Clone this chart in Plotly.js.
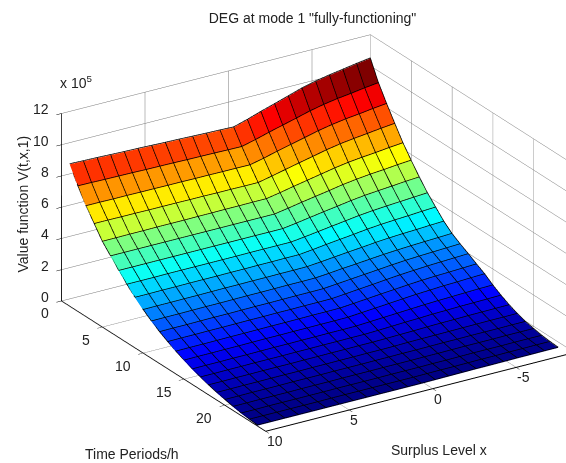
<!DOCTYPE html>
<html><head><meta charset="utf-8">
<script src="https://cdn.plot.ly/plotly-3.0.1.min.js"></script>
<style>html,body{margin:0;padding:0;background:#fff}#c{width:566px;height:463px}</style>
</head><body><div id="c"></div>
<script>
const timePeriods=[1,2,3,4,5,6,7,8,9,10,11,12,13,14,15,16,17,18,19,20,21,22,23,24];
const surplus=[10,9.18,8.36,7.55,6.73,5.91,5.09,4.27,3.45,2.64,1.82,1,0.18,-0.64,-1.45,-2.27,-3.09,-3.91,-4.73,-5.55,-6.36,-7.18,-8];
const valueRows=[
[9.08,9.05,9.03,9.0,8.97,8.95,8.92,8.89,8.87,8.84,8.81,8.79,8.76,9.02,9.31,9.58,9.86,10.14,10.36,10.53,10.67,10.82,10.95],
[8.0,7.99,7.97,7.96,7.95,7.93,7.92,7.91,7.89,7.88,7.87,7.85,7.84,8.06,8.31,8.54,8.77,9.01,9.2,9.35,9.46,9.59,9.7],
[7.06,7.06,7.05,7.05,7.04,7.04,7.03,7.03,7.02,7.02,7.01,7.01,7.0,7.2,7.43,7.64,7.85,8.07,8.24,8.38,8.48,8.6,8.7],
[6.25,6.25,6.24,6.24,6.23,6.23,6.23,6.22,6.22,6.21,6.21,6.2,6.2,6.39,6.59,6.79,6.98,7.18,7.34,7.46,7.56,7.67,7.76],
[5.45,5.45,5.46,5.46,5.47,5.47,5.47,5.48,5.48,5.49,5.49,5.5,5.5,5.66,5.84,6.01,6.18,6.35,6.49,6.59,6.67,6.77,6.85],
[4.85,4.85,4.85,4.85,4.85,4.85,4.85,4.85,4.85,4.85,4.85,4.85,4.85,5.0,5.16,5.31,5.46,5.62,5.74,5.84,5.91,6.0,6.07],
[4.25,4.25,4.25,4.25,4.25,4.25,4.25,4.25,4.25,4.25,4.25,4.25,4.25,4.38,4.52,4.66,4.79,4.93,5.04,5.12,5.19,5.27,5.33],
[3.7,3.7,3.7,3.71,3.71,3.71,3.71,3.71,3.71,3.72,3.72,3.72,3.72,3.83,3.95,4.07,4.19,4.31,4.4,4.47,4.53,4.59,4.65],
[3.2,3.2,3.21,3.21,3.22,3.22,3.22,3.23,3.23,3.24,3.24,3.25,3.25,3.35,3.46,3.56,3.66,3.77,3.85,3.91,3.96,4.02,4.07],
[2.75,2.76,2.76,2.77,2.77,2.78,2.79,2.79,2.8,2.8,2.81,2.81,2.82,2.9,2.99,3.08,3.16,3.25,3.32,3.37,3.41,3.46,3.5],
[2.35,2.36,2.36,2.37,2.38,2.38,2.39,2.4,2.4,2.41,2.42,2.42,2.43,2.5,2.59,2.66,2.74,2.82,2.88,2.93,2.97,3.01,3.05],
[2.0,2.01,2.01,2.02,2.03,2.03,2.04,2.05,2.05,2.06,2.07,2.07,2.08,2.16,2.24,2.32,2.4,2.48,2.55,2.6,2.64,2.68,2.72],
[1.7,1.71,1.71,1.72,1.72,1.73,1.74,1.74,1.75,1.75,1.76,1.76,1.77,1.85,1.93,2.01,2.1,2.18,2.24,2.3,2.34,2.38,2.42],
[1.42,1.43,1.43,1.44,1.45,1.45,1.46,1.47,1.47,1.48,1.49,1.49,1.5,1.57,1.65,1.73,1.8,1.88,1.94,1.99,2.02,2.06,2.1],
[1.18,1.19,1.19,1.2,1.2,1.21,1.22,1.22,1.23,1.23,1.24,1.24,1.25,1.32,1.39,1.46,1.53,1.6,1.65,1.7,1.73,1.77,1.8],
[0.95,0.96,0.96,0.97,0.97,0.98,0.99,0.99,1.0,1.0,1.01,1.01,1.02,1.07,1.12,1.17,1.22,1.27,1.31,1.34,1.37,1.4,1.42],
[0.77,0.77,0.78,0.78,0.79,0.79,0.79,0.8,0.8,0.81,0.81,0.82,0.82,0.85,0.89,0.93,0.96,1.0,1.02,1.05,1.06,1.08,1.1],
[0.6,0.6,0.61,0.61,0.62,0.62,0.62,0.63,0.63,0.64,0.64,0.65,0.65,0.67,0.69,0.71,0.74,0.76,0.77,0.79,0.8,0.81,0.82],
[0.45,0.45,0.46,0.46,0.47,0.47,0.47,0.48,0.48,0.49,0.49,0.5,0.5,0.51,0.53,0.54,0.55,0.56,0.57,0.58,0.59,0.59,0.6],
[0.33,0.33,0.34,0.34,0.34,0.35,0.35,0.35,0.36,0.36,0.36,0.37,0.37,0.38,0.38,0.39,0.4,0.4,0.41,0.41,0.41,0.42,0.42],
[0.22,0.22,0.23,0.23,0.23,0.24,0.24,0.24,0.25,0.25,0.25,0.26,0.26,0.26,0.27,0.27,0.28,0.29,0.29,0.29,0.3,0.3,0.3],
[0.13,0.13,0.14,0.14,0.14,0.14,0.14,0.15,0.15,0.15,0.15,0.16,0.16,0.16,0.17,0.17,0.18,0.19,0.19,0.19,0.2,0.2,0.2],
[0.07,0.07,0.07,0.07,0.07,0.07,0.08,0.08,0.08,0.08,0.08,0.08,0.08,0.09,0.1,0.1,0.11,0.12,0.12,0.13,0.13,0.14,0.14],
[0.03,0.03,0.03,0.03,0.03,0.03,0.03,0.03,0.03,0.03,0.03,0.03,0.03,0.04,0.05,0.06,0.07,0.07,0.08,0.09,0.09,0.1,0.1]
];
const timeTicks=[0,5,10,15,20];
const surplusTicks=[-5,0,5,10];
const valueTicks=[0,2,4,6,8,10,12];
const jet=[[0,'rgb(0,0,127)'],[0.125,'rgb(0,0,255)'],[0.375,'rgb(0,255,255)'],[0.625,'rgb(255,255,0)'],[0.875,'rgb(255,0,0)'],[1,'rgb(127,0,0)']];
const meshLift=0.04;
const timeRange=[0,25], surplusRange=[10,-8.5], valueRange=[0,12];

const nt=timePeriods.length, ny=surplus.length;
const vx=[],vy=[],vz=[],I=[],J=[],K=[],cell=[];
valueRows.forEach((row,a)=>row.forEach((v,b)=>{vx.push(timePeriods[a]);vy.push(surplus[b]);vz.push(v);}));
for(let a=0;a<nt-1;a++)for(let b=0;b<ny-1;b++){
  const p=a*ny+b,q=p+1,r=p+ny,s=r+1,c=valueRows[a][b+1];
  I.push(p,p);J.push(q,s);K.push(s,r);cell.push(c,c);
}
const lx=[],ly=[],lz=[];
for(let a=0;a<nt;a++){for(let b=0;b<ny;b++){lx.push(timePeriods[a]);ly.push(surplus[b]);lz.push(valueRows[a][b]+meshLift);}lx.push(null);ly.push(null);lz.push(null);}
for(let b=0;b<ny;b++){for(let a=0;a<nt;a++){lx.push(timePeriods[a]);ly.push(surplus[b]);lz.push(valueRows[a][b]+meshLift);}lx.push(null);ly.push(null);lz.push(null);}

const axisBase={showbackground:false,showgrid:true,gridcolor:'#777',gridwidth:1,zeroline:false,showline:true,linecolor:'#000',linewidth:2,
  ticks:'outside',ticklen:6,tickcolor:'#000',showticklabels:false,showspikes:false,title:{text:''}};
const fontT={family:'Liberation Sans',size:14,color:'#222'};
const tickNote=(x,y,z,text,xanchor,xshift,yshift)=>({x,y,z,text,xanchor,yanchor:'middle',xshift,yshift,showarrow:false,font:fontT});
const sceneNotes=[
 ...valueTicks.map(v=>tickNote(timeRange[0],surplusRange[0],v,String(v),'right',-10,4)),
 ...timeTicks.map(v=>tickNote(v,surplusRange[0],valueRange[0],String(v),'right',-10.5,-12.5)),
 ...surplusTicks.map(v=>tickNote(timeRange[1],v,valueRange[0],String(v),'left',-1,-10))
];
const paperNote=(px,py,text,extra)=>Object.assign({xref:'paper',yref:'paper',x:px/566,y:1-py/463,text,showarrow:false,font:fontT,xanchor:'center',yanchor:'middle'},extra||{});
const data=[
 {type:'mesh3d',x:vx,y:vy,z:vz,i:I,j:J,k:K,intensity:cell,intensitymode:'cell',colorscale:jet,cmin:0,cmax:10.95,showscale:false,flatshading:true,
  lighting:{ambient:1,diffuse:0,specular:0,roughness:1,fresnel:0},hoverinfo:'skip'},
 {type:'scatter3d',mode:'lines',x:lx,y:ly,z:lz,line:{color:'#000',width:1.5},connectgaps:false,hoverinfo:'skip',showlegend:false}
];
const layout={width:566,height:463,margin:{l:0,r:0,t:0,b:0},paper_bgcolor:'#fff',showlegend:false,
 title:{text:'DEG at mode 1 "fully-functioning"',font:fontT,x:312.5/566,xanchor:'center',y:1-18/463,yanchor:'middle'},
 scene:{domain:{x:[0,1],y:[0,1]},aspectmode:'manual',aspectratio:{x:1.651,y:1.579,z:0.885},
  camera:{projection:{type:'orthographic'},eye:{x:1.466,y:-1.106,z:0.814},center:{x:-0.081,y:-0.128,z:0.007},up:{x:0,y:0,z:1}},
  xaxis:Object.assign({},axisBase,{range:timeRange,tickvals:timeTicks}),
  yaxis:Object.assign({},axisBase,{range:surplusRange,tickvals:surplusTicks}),
  zaxis:Object.assign({},axisBase,{range:valueRange,tickvals:valueTicks}),
  annotations:sceneNotes},
 annotations:[
  paperNote(131.5,454,'Time Periods/h'),
  paperNote(438.5,450,'Surplus Level x'),
  paperNote(22,204.5,'Value function V(t,x,1)',{textangle:-90}),
  paperNote(76,82,'x 10<sup>5</sup>')
 ]};
Plotly.newPlot('c',data,layout,{displayModeBar:false});
</script></body></html>
